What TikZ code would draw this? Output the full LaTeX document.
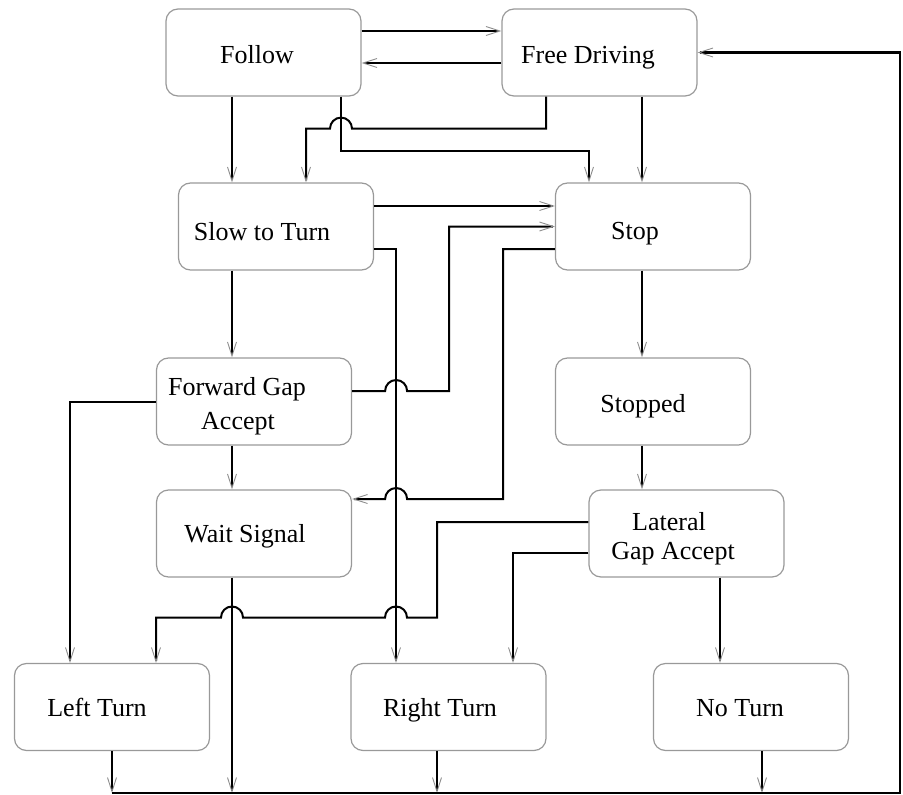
\documentclass[tikz,border=0pt]{standalone}
\usepackage{fontspec}
\setmainfont{Liberation Serif}
\usetikzlibrary{arrows.meta,calc}
\begin{document}
\begin{tikzpicture}[x=1pt,y=-1pt,
  box/.style={draw=black!40, line width=1.2pt, rounded corners=12pt,
    minimum width=195pt, minimum height=87pt, inner sep=0pt},
  txt/.style={inner sep=0pt, anchor=base, font=\fontsize{26}{31}\selectfont},
  conn/.style={line width=2pt, black},
  arr/.style={conn, -{Straight Barb[length=14pt,width=9pt,line width=0.9pt,color=black!45]}},
]
\useasboundingbox (0,0) rectangle (903,795);

% boxes
\node[box] (follow)  at (263.5,52.5) {};
\node[box] (free)    at (599.5,52.5) {};
\node[box] (slow)    at (276,226.5) {};
\node[box] (stop)    at (653,226.5) {};
\node[box] (fga)     at (254,401.5) {};
\node[box] (stopped) at (653,401.5) {};
\node[box] (wait)    at (254,533.5) {};
\node[box] (lga)     at (686.5,533.5) {};
\node[box] (left)    at (112,707) {};
\node[box] (right)   at (448.5,707) {};
\node[box] (noturn)  at (751,707) {};

% texts
\node[txt] (tFollow)  at (257,63) {Follow};
\node[txt] (tFree)    at (588,63) {Free Driving};
\node[txt] (tSlow)    at (262,240) {Slow to Turn};
\node[txt] (tStop)    at (635,239) {Stop};
\node[txt] (tFga1)    at (237,395) {Forward Gap};
\node[txt] (tFga2)    at (238,429) {Accept};
\node[txt] (tStopped) at (643,412) {Stopped};
\node[txt] (tWait)    at (245,542) {Wait Signal};
\node[txt] (tLga1)    at (669,530) {Lateral};
\node[txt] (tLga2)    at (673,559) {Gap Accept};
\node[txt] (tLeft)    at (97,716) {Left Turn};
\node[txt] (tRight)   at (440,716) {Right Turn};
\node[txt] (tNo)      at (740,716) {No Turn};

% bus coordinates
\coordinate (busL) at (112,793);
\coordinate (busW) at (232,793);
\coordinate (busR) at (437,793);
\coordinate (busN) at (762,793);
\coordinate (busE) at (900,793);

% connectors
\draw[arr] ($(follow.east)+(0,-21.5)$) -- ($(free.west)+(0,-21.5)$);
\draw[arr] ($(free.west)+(0,10.5)$) -- ($(follow.east)+(0,10.5)$);
\draw[arr] ($(follow.south)+(-31.5,0)$) -- ($(slow.north)+(-44,0)$);
\draw[arr] ($(follow.south)+(77.5,0)$) -- ++(0,54) -| ($(stop.north)+(-64,0)$);
\draw[arr] ($(free.south)+(-53.5,0)$) |- ($(follow.south)+(88.5,32)$)
   arc[start angle=0,end angle=180,radius=11pt] -- ++(-24,0) -- ($(slow.north)+(30,0)$);
\draw[arr] ($(free.south)+(42.5,0)$) -- ($(stop.north)+(-11,0)$);
\draw[arr] ($(slow.east)+(0,-20.5)$) -- ($(stop.west)+(0,-20.5)$);
\draw[arr] ($(slow.east)+(0,22.5)$) -| ($(right.north)+(-52.5,0)$);
\draw[arr] ($(slow.south)+(-44,0)$) -- ($(fga.north)+(-22,0)$);
\draw[arr] ($(fga.east)+(0,-10.5)$) -- ++(33,0)
   arc[start angle=180,end angle=0,radius=11pt] -- ++(42,0) |- (stop.west);
\draw[arr] ($(stop.west)+(0,22.5)$) -| ($(wait.east)+(151,-34.5)$) -- ($(wait.east)+(55,-34.5)$)
   arc[start angle=0,end angle=180,radius=11pt] -- ($(wait.east)+(0,-34.5)$);
\draw[arr] ($(stop.south)+(-11,0)$) -- ($(stopped.north)+(-11,0)$);
\draw[arr] ($(stopped.south)+(-11,0)$) -- ($(lga.north)+(-44.5,0)$);
\draw[arr] ($(fga.south)+(-22,0)$) -- ($(wait.north)+(-22,0)$);
\draw[arr] (fga.west) -| ($(left.north)+(-42,0)$);
\draw[arr] ($(lga.west)+(0,-11.5)$) -| ($(left.north)+(325,-45.4)$) -- ($(left.north)+(295,-45.4)$)
   arc[start angle=0,end angle=180,radius=11pt] -- ($(left.north)+(131,-45.4)$)
   arc[start angle=0,end angle=180,radius=11pt] -| ($(left.north)+(44,0)$);
\draw[arr] ($(lga.west)+(0,19.5)$) -| ($(right.north)+(64.5,0)$);
\draw[arr] ($(lga.south)+(33.5,0)$) -- ($(noturn.north)+(-31,0)$);

% to the bus
\draw[arr] (left.south) -- (busL);
\draw[arr] ($(wait.south)+(-22,0)$) -- (busW);
\draw[arr] ($(right.south)+(-11.5,0)$) -- (busR);
\draw[arr] ($(noturn.south)+(11,0)$) -- (busN);
\draw[arr, line width=2.2pt] (busL) -- (busE) |- (free.east);
\end{tikzpicture}
\end{document}
